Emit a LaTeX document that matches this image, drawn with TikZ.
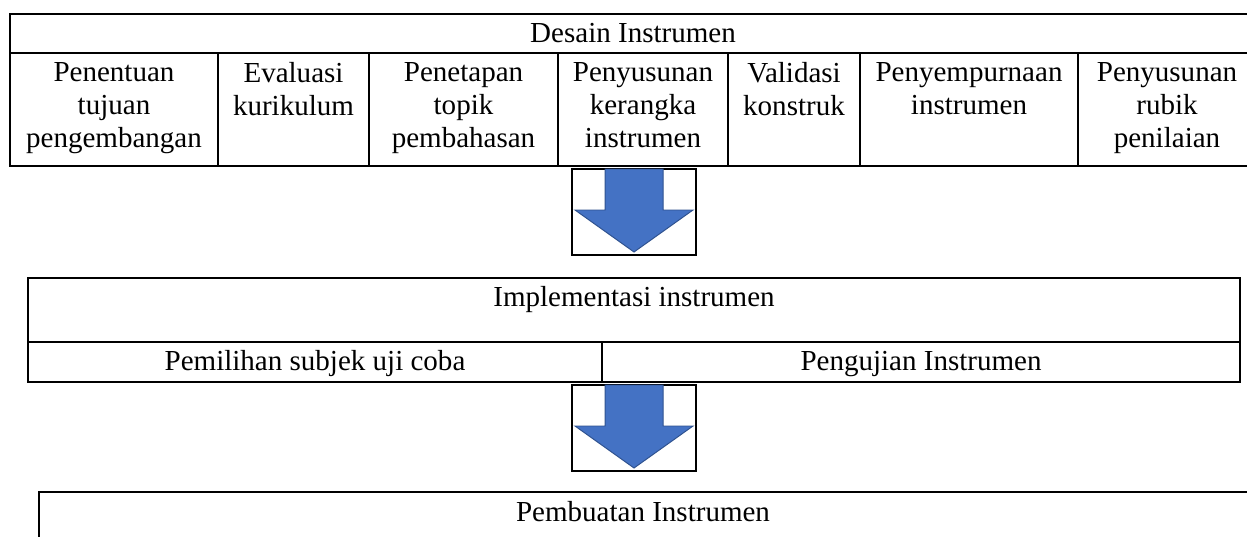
\documentclass[tikz,border=0pt]{standalone}
\usepackage{fontspec}
\setmainfont{Liberation Serif}
\usetikzlibrary{positioning}
\definecolor{arrowblue}{HTML}{4472C4}
\definecolor{arrowedge}{HTML}{2F528F}
\tikzset{
	every cell/.style={align=center, inner sep=0pt, anchor=base},
	top cell/.style={every cell, anchor=north},
	table line/.style={line width=0.8pt},
	arrow box/.style={draw, line width=0.8pt},
	block arrow/.style={fill=arrowblue, draw=arrowedge, line width=0.4pt},
}

\begin{document}
\begin{tikzpicture}[x=0.41pt, y=-0.41pt, font=\fontsize{11.9}{13.6}\selectfont]
	\useasboundingbox (0,0) rectangle (1247,536);

	% Desain Instrumen
	\draw [table line] (1247,14) -- (10,14) -- (10,166) -- (1247,166);
	\draw [table line] (10,53) -- (1247,53);
	\node [every cell] (desain) at (633,43) {Desain Instrumen};
	\foreach \l/\c/\t [count=\i] in {10/114/{Penentuan\\tujuan\\pengembangan},
			218/293.5/{Evaluasi\\kurikulum},
			369/463.5/{Penetapan\\topik\\pembahasan},
			558/643/{Penyusunan\\kerangka\\instrumen},
			728/794/{Validasi\\konstruk},
			860/969/{Penyempurnaan\\instrumen},
			1078/1167/{Penyusunan\\rubik\\penilaian}} {
		\node [top cell] (step-\i) at (\c,62) {\t};
		\ifnum\i>1
			\draw [table line] (\l,53) -- (\l,166);
		\fi
	}

	% arrows
	\foreach \y [count=\i] in {169,385} {
		\draw [arrow box] (572,\y) rectangle (696,\y+86);
		\draw [block arrow] (605,\y) -- (663,\y) -- (663,\y+41) -- (693,\y+41)
			-- (634,\y+83) -- (575,\y+41) -- (605,\y+41) -- cycle;
	}

	% Implementasi instrumen
	\draw [table line] (28,278) rectangle (1240,382);
	\draw [table line] (28,342) -- (1240,342);
	\draw [table line] (602,342) -- (602,382);
	\node [every cell] (impl) at (634,306) {Implementasi instrumen};
	\node [every cell] (subjek) at (315,370) {Pemilihan subjek uji coba};
	\node [every cell] (uji) at (921,370) {Pengujian Instrumen};

	% Pembuatan Instrumen
	\draw [table line] (39,540) -- (39,492) -- (1250,492);
	\node [every cell] (buat) at (643,521) {Pembuatan Instrumen};
\end{tikzpicture}
\end{document}
